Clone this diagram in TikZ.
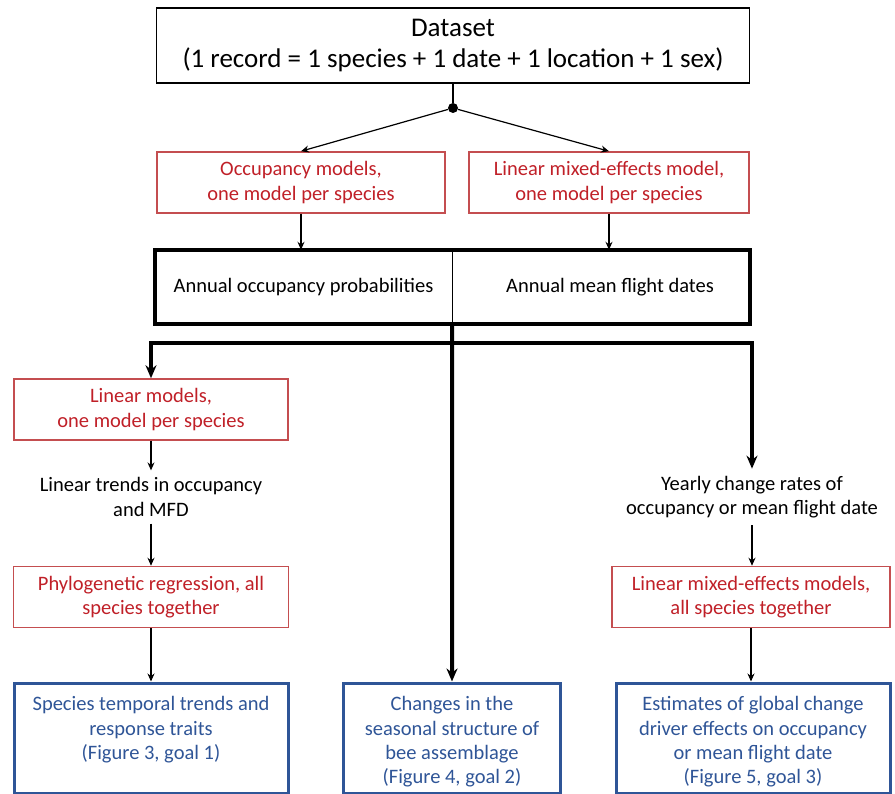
\documentclass[tikz,border=0pt]{standalone}
\usepackage{fontspec}
\setmainfont{Carlito}
\usetikzlibrary{arrows.meta}
\definecolor{redtxt}{RGB}{192,32,40}
\definecolor{redline}{RGB}{196,78,80}
\definecolor{blueline}{RGB}{47,85,151}
\begin{document}
\begin{tikzpicture}[x=1pt,y=-1pt,
  font=\fontsize{20.5}{24.5}\selectfont,
  redbox/.style={draw=redline, line width=1.5pt, text=redtxt, align=center, minimum height=61pt, inner sep=0pt},
  bluebox/.style={draw=blueline, line width=3pt, inner sep=0pt, minimum height=110pt},
  bluetext/.style={text=blueline, align=center, inner sep=0pt, anchor=north, font=\fontsize{20.5}{24.2}\selectfont},
  plaintext/.style={align=center, inner sep=7pt},
  thinarr/.style={-{Stealth[length=8pt,width=7pt]}, line width=1.2pt},
  thickarr/.style={-{Stealth[length=13pt,width=11pt]}, line width=4pt},
]
\useasboundingbox (0,0) rectangle (895,794);

\node[draw, line width=1.3pt, minimum width=593pt, minimum height=75pt, align=center,
      font=\fontsize{27}{31.5}\selectfont, inner sep=0pt] (data) at (453,45.5)
      {Dataset\\(1 record = 1 species + 1 date + 1 location + 1 sex)};
\node[circle, fill, inner sep=0pt, minimum size=10pt] (dot) at (453,108) {};

\node[redbox, minimum width=288pt] (occ) at (301,182.5) {Occupancy models,\\one model per species};
\node[redbox, minimum width=280pt] (lme) at (609,182.5) {Linear mixed-effects model,\\one model per species};

\node[minimum width=297pt, minimum height=74pt, inner sep=0pt] (annL) at (303.5,287) {Annual occupancy probabilities};
\node[minimum width=298pt, minimum height=74pt, inner sep=0pt] (annR) at (601,287) {\hspace{18pt}Annual mean flight dates};
\draw[line width=4pt] (annL.north west) rectangle (annR.south east);
\draw[line width=0.6pt] (annL.north east) -- (annL.south east);

\node[redbox, minimum width=274pt] (lin) at (151,409.5) {Linear models,\\one model per species};
\node[plaintext] (trend) at (151,497) {Linear trends in occupancy\\and MFD};
\node[redbox, minimum width=275pt] (phy) at (151,597) {Phylogenetic regression, all\\species together};

\node[plaintext] (year) at (752,497) {Yearly change rates of\\occupancy or mean flight date};
\node[redbox, minimum width=278pt] (lmeall) at (751,597) {Linear mixed-effects models,\\all species together};

\node[bluebox, minimum width=274pt] (spe) at (151,738) {};
\node[bluebox, minimum width=217pt] (chg) at (452,738) {};
\node[bluebox, minimum width=274pt] (est) at (753,738) {};
\node[bluetext] (speT) at ([yshift=-15pt]spe.north) {Species temporal trends and\\response traits\\(Figure 3, goal 1)};
\node[bluetext] (chgT) at ([yshift=-15pt]chg.north) {Changes in the\\seasonal structure of\\bee assemblage\\(Figure 4, goal 2)};
\node[bluetext] (estT) at ([yshift=-15pt]est.north) {Estimates of global change\\driver effects on occupancy\\or mean flight date\\(Figure 5, goal 3)};

\coordinate (hub) at (452,343);

\draw[line width=1.2pt] (data.south) -- (dot);
\draw[thinarr] (dot) -- (occ.north);
\draw[thinarr] (dot) -- (lme.north);
\draw[thinarr] (occ.south) -- (occ.south |- annL.north);
\draw[thinarr] (lme.south) -- (lme.south |- annR.north);

\draw[thickarr] (annL.south east) -- (chg.north);
\draw[thickarr] (hub) -| (lin.north);
\draw[thickarr] (hub) -| (year.north);

\draw[thinarr] (lin.south) -- (trend.north);
\draw[thinarr] (trend.south) -- (phy.north);
\draw[thinarr] (phy.south) -- (spe.north);
\draw[thinarr] (year.south) -- (year.south |- lmeall.north);
\draw[thinarr] (lmeall.south) -- (lmeall.south |- est.north);
\end{tikzpicture}
\end{document}
